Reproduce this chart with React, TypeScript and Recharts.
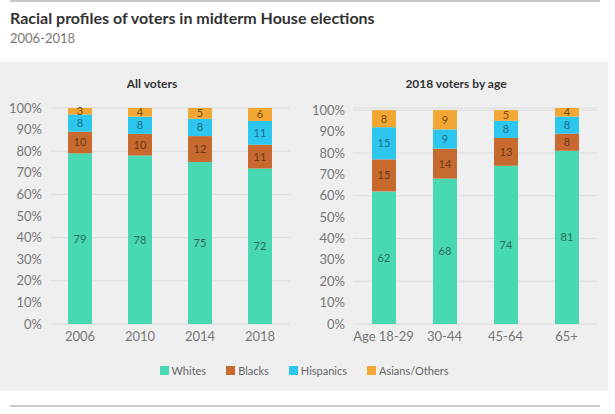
import React from "react";
import { BarChart, Bar, XAxis, YAxis, CartesianGrid, LabelList } from "recharts";

const yearCategories = ["2006", "2010", "2014", "2018"];
const ageCategories = ["Age 18-29", "30-44", "45-64", "65+"];

const yearWhites = [79, 78, 75, 72];
const yearBlacks = [10, 10, 12, 11];
const yearHispanics = [8, 8, 8, 11];
const yearAsians = [3, 4, 5, 6];

const ageWhites = [62, 68, 74, 81];
const ageBlacks = [15, 14, 13, 8];
const ageHispanics = [15, 9, 8, 8];
const ageAsians = [8, 9, 5, 4];

const yTicks = [0, 10, 20, 30, 40, 50, 60, 70, 80, 90, 100];

const seriesNames = ["Whites", "Blacks", "Hispanics", "Asians/Others"];
const seriesKeys = ["whites", "blacks", "hispanics", "asians"];
const seriesColors = ["#48d8b2", "#c8692f", "#2dc6ee", "#f2a735"];
const labelColors = ["#2f6b5b", "#6b3a1a", "#1d6f8a", "#7a4a10"];

const FONT = "Lato, 'Open Sans', sans-serif";

function buildRows(cats: string[], w: number[], b: number[], h: number[], a: number[]) {
  return cats.map((c, i) => ({ cat: c, whites: w[i], blacks: b[i], hispanics: h[i], asians: a[i] }));
}

const yearRows = buildRows(yearCategories, yearWhites, yearBlacks, yearHispanics, yearAsians);
const ageRows = buildRows(ageCategories, ageWhites, ageBlacks, ageHispanics, ageAsians);

function Panel({ data, yWidth, right }: { data: any[]; yWidth: number; right: number }) {
  return (
    <BarChart
      width={304}
      height={290}
      data={data}
      margin={{ top: 46, right, left: 0, bottom: 0 }}
      barSize={24}
    >
      <CartesianGrid vertical={false} stroke="#dcdcdc" />
      <XAxis
        dataKey="cat"
        axisLine={false}
        tickLine={false}
        height={28}
        interval={0}
        tick={{ fill: "#777", fontSize: 13, fontFamily: FONT }}
      />
      <YAxis
        width={yWidth}
        domain={[0, 100]}
        ticks={yTicks}
        axisLine={false}
        tickLine={false}
        tickFormatter={(v: number) => `${v}%`}
        tick={{ fill: "#777", fontSize: 13, fontFamily: FONT }}
      />
      {seriesKeys.map((k, i) => (
        <Bar key={k} dataKey={k} stackId="s" fill={seriesColors[i]} isAnimationActive={false}>
          <LabelList
            dataKey={k}
            position="center"
            fill={labelColors[i]}
            style={{ fontSize: 11, fontFamily: FONT }}
          />
        </Bar>
      ))}
    </BarChart>
  );
}

export default function App() {
  return (
    <div
      style={{
        position: "absolute",
        left: 0,
        top: 0,
        width: 615,
        height: 414,
        background: "#fff",
        fontFamily: FONT,
        overflow: "hidden",
      }}
    >
      <div style={{ position: "absolute", left: 10, top: 0, width: 590, height: 2, background: "#c8c8c8" }} />
      <div
        style={{
          position: "absolute",
          left: 10,
          top: 8,
          fontSize: 16,
          fontWeight: 700,
          color: "#333",
          whiteSpace: "nowrap",
        }}
      >
        Racial profiles of voters in midterm House elections
      </div>
      <div style={{ position: "absolute", left: 10, top: 30, fontSize: 13, color: "#777" }}>2006-2018</div>

      <div style={{ position: "absolute", left: 0, top: 62, width: 608, height: 329, background: "#efefef" }}>
        <div
          style={{
            position: "absolute",
            left: 0,
            top: 14,
            width: 304,
            textAlign: "center",
            fontSize: 12,
            fontWeight: 700,
            color: "#333",
          }}
        >
          All voters
        </div>
        <div
          style={{
            position: "absolute",
            left: 304,
            top: 14,
            width: 304,
            textAlign: "center",
            fontSize: 12,
            fontWeight: 700,
            color: "#333",
          }}
        >
          2018 voters by age
        </div>
        <div style={{ position: "absolute", left: 0, top: 0 }}>
          <Panel data={yearRows} yWidth={50} right={14} />
        </div>
        <div style={{ position: "absolute", left: 304, top: 0 }}>
          <Panel data={ageRows} yWidth={49} right={11} />
        </div>
        <div
          style={{
            position: "absolute",
            left: 0,
            top: 302,
            width: 608,
            display: "flex",
            justifyContent: "center",
            fontSize: 11,
            color: "#666",
          }}
        >
          {seriesNames.map((n, i) => (
            <div key={n} style={{ display: "flex", alignItems: "center", marginRight: i < 3 ? 20 : 0 }}>
              <span
                style={{ display: "inline-block", width: 9, height: 9, background: seriesColors[i], marginRight: 3 }}
              />
              <span>{n}</span>
            </div>
          ))}
        </div>
      </div>
      <div style={{ position: "absolute", left: 10, top: 405, width: 590, height: 2, background: "#c8c8c8" }} />
    </div>
  );
}
